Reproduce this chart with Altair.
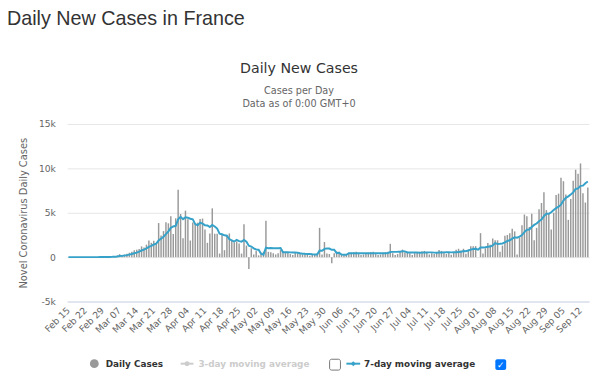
import altair as alt
import pandas as pd

# Daily new cases, Feb 15 .. Sep 15
feb = [0, 0, 0, 0, 0, 0, 0, 0, 0, 0, 0, 2, 4, 20, 19]
mar = [43, 30, 61, 73, 138, 190, 336, 177, 286, 372, 497, 595, 785, 838, 924, 1210,
       1097, 1404, 1861, 1617, 1847, 1559, 3838, 2446, 2931, 3922, 3809, 4611, 2599, 4376, 7578]
apr = [4861, 2116, 5233, 4267, 1873, 3912, 3777, 3881, 4286, 4342, 3114, 1613, 2673, 5497, 2633,
       2641, 405, 2569, 785, 2383, 2667, 1827, 1653, 1773, 1537, 400, 3700, 1300, -1350, 1000]
may = [300, 700, 200, 500, 600, 4100, 600, 550, 450, 300, 450, 800, 700, 600, 550, 350,
       250, 500, 450, 350, 300, 400, 250, 150, 300, 350, 400, 3300, 300, 1700, 400]
jun = [350, -700, 450, 650, 600, 300, 200, 350, 500, 500, 550, 600, 350, 250, 300,
       450, 500, 550, 600, 350, 250, 300, 500, 550, 600, 1500, 450, 250, 350, 600]
jul = [850, 550, 600, 450, 250, 450, 550, 600, 650, 700, 500, 300, 450, 350, 550, 800,
       700, 600, 350, 500, 260, 560, 820, 940, 750, 940, 370, 860, 1240, 1240, 1240]
aug = [0, 2700, 400, 1000, 1600, 1400, 2100, 1900, 1900, 600, 1300, 2400, 2500, 2700, 3200,
       2900, 300, 2200, 3600, 4800, 4600, 3400, 4900, 1900, 3300, 5400, 6100, 7300, 5300, 4900, 3100]
sep = [5000, 7000, 7150, 8950, 8550, 7050, 4200, 6550, 8600, 9850, 9400, 10550, 7200, 6150, 7850]

cases = feb + mar + apr + may + jun + jul + aug + sep
dates = pd.date_range("2020-02-15", periods=len(cases), freq="D")
day_labels = [d.strftime("%b %d") for d in dates]
tick_labels = day_labels[::7]

y_ticks = [-5000, 0, 5000, 10000, 15000]

df = pd.DataFrame({"idx": list(range(len(cases))), "day": day_labels, "cases": cases})
one = pd.DataFrame({"a": [0]})

FONT = "DejaVu Sans"
BLUE = "#36a2c9"
GREY = "#999999"

x_scale = alt.Scale(paddingInner=0.4, paddingOuter=0.2)
x_axis = alt.Axis(values=tick_labels, labelAngle=315, labelAlign="right", labelBaseline="middle",
                  labelFont=FONT, labelFontSize=9.3, labelColor="#666666", labelPadding=7,
                  ticks=False, domainColor="#ccd6eb", domainWidth=1, grid=False, title=None,
                  labelOverlap=False)
y_scale = alt.Scale(domain=[-5000, 15000], nice=False)
y_axis = alt.Axis(values=y_ticks, labelExpr="datum.value === 0 ? '0' : (datum.value/1000) + 'k'",
                  grid=True, gridColor="#e6e6e6", domain=False, ticks=False, labelPadding=12,
                  labelFont=FONT, labelFontSize=9.3, labelColor="#666666",
                  title="Novel Coronavirus Daily Cases", titleFont=FONT, titleFontSize=10,
                  titleFontWeight="normal", titleColor="#666666", titlePadding=10)

bars = alt.Chart(df).mark_bar(color=GREY).encode(
    x=alt.X("day:N", sort=day_labels, scale=x_scale, axis=x_axis),
    y=alt.Y("cases:Q", scale=y_scale, axis=y_axis),
)

line = alt.Chart(df).transform_window(
    ma="mean(cases)", frame=[-6, 0], sort=[alt.SortField("idx")]
).mark_line(color=BLUE, strokeWidth=2).encode(
    x=alt.X("day:N", sort=day_labels, scale=x_scale, axis=x_axis),
    y=alt.Y("ma:Q", scale=y_scale, axis=y_axis),
    order=alt.Order("idx:Q"),
)


def txt(text, x, y, size, color, weight="normal", font=FONT, align="left", baseline="middle"):
    return alt.Chart(one).mark_text(
        text=text, fontSize=size, color=color, fontWeight=weight, font=font,
        align=align, baseline=baseline
    ).encode(x=alt.value(x), y=alt.value(y))


LY = 243
layers = [
    bars,
    line,
    txt("Daily New Cases in France", -61, -100, 20, "#333333", font="Liberation Sans",
        baseline="alphabetic"),
    txt("Daily New Cases", 235, -56, 14.4, "#333333", align="center"),
    txt("Cases per Day", 235, -33, 9.8, "#666666", align="center"),
    txt("Data as of 0:00 GMT+0", 235, -20, 9.8, "#666666", align="center"),
    # legend
    alt.Chart(one).mark_point(shape="circle", filled=True, size=80, color=GREY, opacity=1).encode(
        x=alt.value(27.5), y=alt.value(LY)),
    txt("Daily Cases", 39, LY, 9, "#333333", weight="bold"),
    alt.Chart(one).mark_rule(color="#cccccc", strokeWidth=2).encode(
        x=alt.value(115), x2=alt.value(128), y=alt.value(LY)),
    alt.Chart(one).mark_point(shape="circle", filled=True, size=25, color="#cccccc", opacity=1).encode(
        x=alt.value(121.5), y=alt.value(LY)),
    txt("3-day moving average", 133, LY, 9, "#cccccc", weight="bold"),
    alt.Chart(one).mark_rect(fill="white", stroke="#767676", strokeWidth=1, cornerRadius=2).encode(
        x=alt.value(266), x2=alt.value(277), y=alt.value(LY - 4.5), y2=alt.value(LY + 6.5)),
    alt.Chart(one).mark_rule(color=BLUE, strokeWidth=2).encode(
        x=alt.value(283), x2=alt.value(297), y=alt.value(LY)),
    alt.Chart(one).mark_point(shape="diamond", filled=True, size=25, color=BLUE, opacity=1).encode(
        x=alt.value(290), y=alt.value(LY)),
    txt("7-day moving average", 301, LY, 9, "#333333", weight="bold"),
    alt.Chart(one).mark_rect(fill="#0075ff", cornerRadius=2).encode(
        x=alt.value(434), x2=alt.value(445), y=alt.value(LY - 4.5), y2=alt.value(LY + 6.5)),
    txt("✓", 439.5, LY + 1, 9, "white", weight="bold", align="center"),
]

chart = alt.layer(*layers).properties(
    width=529, height=180,
    padding={"left": 60, "top": 115, "right": 3, "bottom": 77},
    autosize=alt.AutoSizeParams(type="none"),
).configure_view(stroke=None)

chart.save("out.html", embed_options={"renderer": "svg", "actions": False})
